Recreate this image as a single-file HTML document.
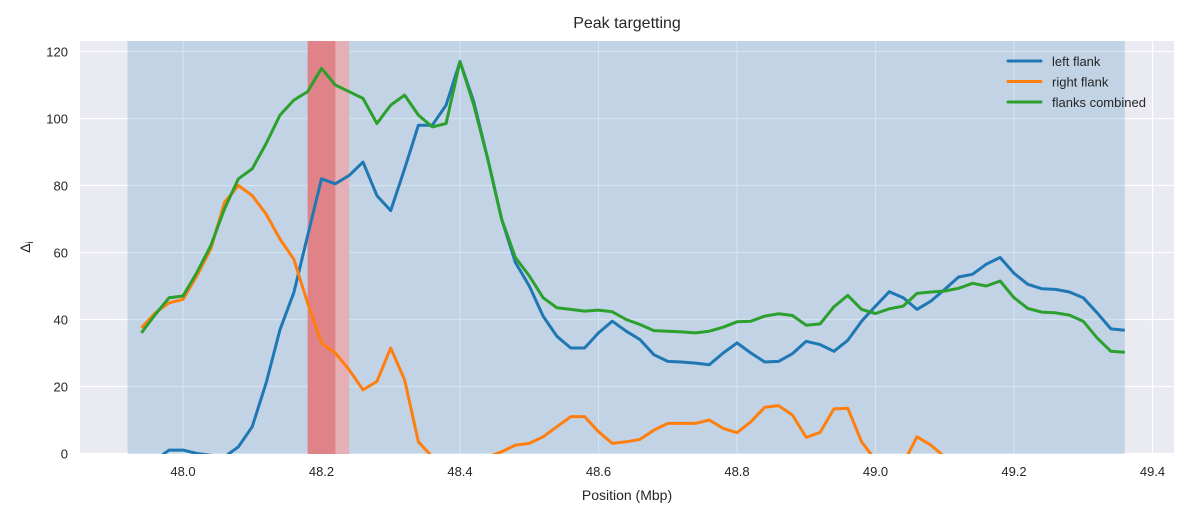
<!DOCTYPE html>
<html><head><meta charset="utf-8"><style>
body{margin:0;background:#fff;}
svg{display:block;font-family:"Liberation Sans",sans-serif;}
</style></head><body>
<svg id="chart" width="1189" height="518">
<defs><clipPath id="clip"><rect x="80" y="41" width="1094" height="413"/></clipPath></defs>
<rect x="80" y="41" width="1094" height="413" fill="#eaeaf2"/>
<g id="grid"></g>
<g id="spans" clip-path="url(#clip)"></g>
<g id="lines" clip-path="url(#clip)"></g>
<g id="ticks"></g>
<text x="627" y="28" text-anchor="middle" font-size="16" fill="#262626">Peak targetting</text>
<text x="627" y="500" text-anchor="middle" font-size="14" fill="#262626">Position (Mbp)</text>
<text transform="translate(30,247) rotate(-90)" text-anchor="middle" font-size="14" fill="#262626">Δ<tspan font-size="10" dy="3">i</tspan></text>
<g id="legend"></g>
</svg>
<script>
const xStart = 47.94, xStep = 0.02;
const leftFlank = [-5,-2,1,1,0,-0.5,-1,2,8,21,37,48,65,82,80.5,83,87,77,72.5,85,98,98,104,117,105,88,70,57,50,41,35,31.5,31.5,36,39.5,36.5,34,29.5,27.5,27.3,27,26.5,30,33,30,27.3,27.5,29.8,33.5,32.5,30.5,33.8,39.5,44,48.3,46.5,43,45.5,49,52.7,53.5,56.5,58.5,53.8,50.5,49.2,49,48.2,46.5,42,37.2,36.8];
const rightFlank = [37.5,42,45,46,53,61,75,80,77,71.5,64,58,45,33,30,25,19,21.5,31.5,22,3.5,-1,-3,-1,-3,-1,0.5,2.5,3,5,8,11,11,6.5,3,3.5,4.2,7,9,9,9,10,7.5,6.2,9.5,13.8,14.3,11.5,4.8,6.3,13.3,13.5,3.5,-2,-5,-3,5,2.5,-1,-3,-4,-5,-5,-5,-5,-5,-5,-5,-5,-5,-5,-5];
const combined = [36,41.5,46.5,47,54,62,73,82,85,92.5,101,105.5,108,115,110,108,106,98.5,104,107,101,97.5,98.5,117,104,88,70,58.5,53,46.5,43.5,43,42.5,42.8,42.3,40,38.5,36.7,36.5,36.3,36,36.5,37.7,39.3,39.5,41,41.7,41.2,38.3,38.7,43.8,47.2,43,41.8,43.2,44,47.8,48.2,48.5,49.3,50.8,50,51.5,46.5,43.3,42.2,42,41.3,39.5,34.5,30.5,30.2];
const xTicks = [48.0,48.2,48.4,48.6,48.8,49.0,49.2,49.4];
const yTicks = [0,20,40,60,80,100,120];
const regionSpan = [47.92,49.36];
const targetSpans = [[48.18,48.24],[48.18,48.22]];
const seriesNames = ["left flank","right flank","flanks combined"];
const colors = ["#1f77b4","#ff7f0e","#2ca02c"];
const spanFills = ["#e4b0b5","#df8389"];

const X = v => 183 + (v-48.0)*692.5;
const Y = v => 453.5 - v*3.35;
const NS = "http://www.w3.org/2000/svg";
function mk(tag, attrs, parent){const e=document.createElementNS(NS,tag);for(const k in attrs)e.setAttribute(k,attrs[k]);parent.appendChild(e);return e;}

const grid=document.getElementById('grid'), ticks=document.getElementById('ticks');
xTicks.forEach(t=>{
  const l=mk('line',{x1:X(t),x2:X(t),y1:41,y2:454,stroke:'#fff','stroke-width':1.2},grid);
  
  
  const tx=mk('text',{x:X(t),y:476,'text-anchor':'middle','font-size':13,fill:'#262626'},ticks);
  tx.textContent=t.toFixed(1);
  
  
});
yTicks.forEach(t=>{
  const l=mk('line',{x1:80,x2:1174,y1:Y(t),y2:Y(t),stroke:'#fff','stroke-width':1.2},grid);
  
  
  const tx=mk('text',{x:68,y:Y(t)+5,'text-anchor':'end','font-size':13,fill:'#262626'},ticks);
  tx.textContent=t;
  
  
});
const spans=document.getElementById('spans');
const r=mk('rect',{x:X(regionSpan[0]),y:41,width:X(regionSpan[1])-X(regionSpan[0]),height:413,fill:'#1f77b4','fill-opacity':0.2},spans);


targetSpans.forEach((s,i)=>{
  const e=mk('rect',{x:X(s[0]),y:41,width:X(s[1])-X(s[0]),height:413,fill:spanFills[i]},spans);
  
  
});
const lines=document.getElementById('lines');
[leftFlank,rightFlank,combined].forEach((d,i)=>{
  const pts=d.map((v,j)=>X(xStart+j*xStep).toFixed(1)+','+Y(v).toFixed(1)).join(' ');
  const p=mk('polyline',{points:pts,fill:'none',stroke:colors[i],'stroke-width':3,'stroke-linejoin':'round'},lines);
  
  
});
const lg=document.getElementById('legend');
seriesNames.forEach((n,i)=>{
  const y=61+i*20.5;
  const l=mk('line',{x1:1008,x2:1041,y1:y,y2:y,stroke:colors[i],'stroke-width':3,'stroke-linecap':'round'},lg);
  
  
  const t=mk('text',{x:1052,y:y+5,'font-size':13,fill:'#262626'},lg);
  t.textContent=n;
  
  
});
</script>
</body></html>
